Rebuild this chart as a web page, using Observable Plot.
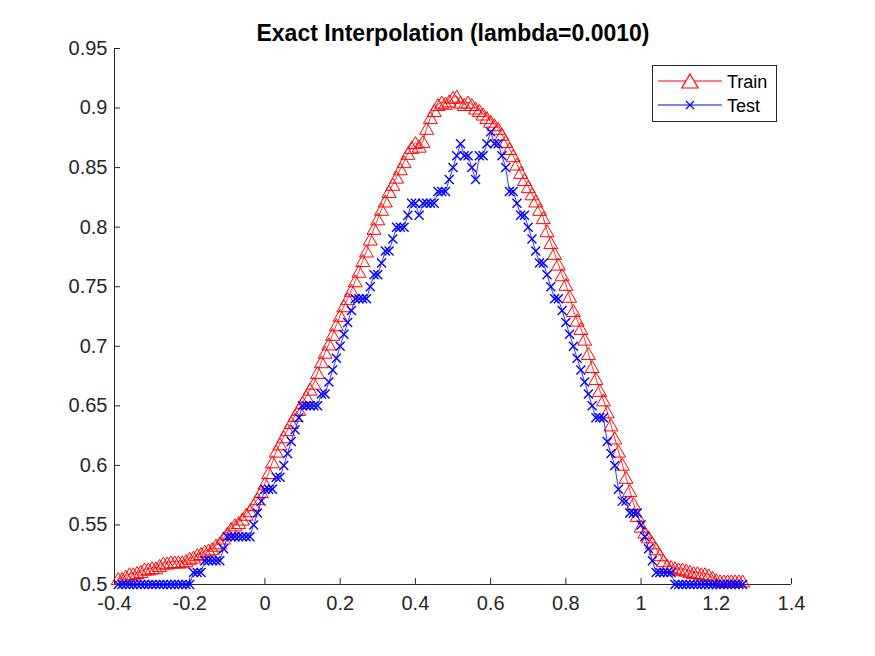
<!DOCTYPE html>
<html><head><meta charset="utf-8">
<script src="https://cdn.jsdelivr.net/npm/d3@7"></script>
<script src="https://cdn.jsdelivr.net/npm/@observablehq/plot@0.6"></script>
<style>
body{margin:0;background:#fff;}
#wrap{position:relative;width:875px;height:656px;font-family:"Liberation Sans",Arial,sans-serif;}
#legend{position:absolute;left:652px;top:65px;width:125px;height:57px;box-sizing:border-box;border:1px solid #262626;background:#fff;}
#legend svg{display:block;}
</style></head><body>
<div id="wrap"><div id="chart"></div><div id="legend"></div></div>
<script>
// sample positions (x) and accuracies
const xs = [
-0.39,-0.38,-0.37,-0.36,-0.35,-0.34,-0.33,-0.32,-0.31,-0.30,
-0.29,-0.28,-0.27,-0.26,-0.25,-0.24,-0.23,-0.22,-0.21,-0.20,
-0.19,-0.18,-0.17,-0.16,-0.15,-0.14,-0.13,-0.12,-0.11,-0.10,
-0.09,-0.08,-0.07,-0.06,-0.05,-0.04,-0.03,-0.02,-0.01,0.00,
0.01,0.02,0.03,0.04,0.05,0.06,0.07,0.08,0.09,0.10,
0.11,0.12,0.13,0.14,0.15,0.16,0.17,0.18,0.19,0.20,
0.21,0.22,0.23,0.24,0.25,0.26,0.27,0.28,0.29,0.30,
0.31,0.32,0.33,0.34,0.35,0.36,0.37,0.38,0.39,0.40,
0.41,0.42,0.43,0.44,0.45,0.46,0.47,0.48,0.49,0.50,
0.51,0.52,0.53,0.54,0.55,0.56,0.57,0.58,0.59,0.60,
0.61,0.62,0.63,0.64,0.65,0.66,0.67,0.68,0.69,0.70,
0.71,0.72,0.73,0.74,0.75,0.76,0.77,0.78,0.79,0.80,
0.81,0.82,0.83,0.84,0.85,0.86,0.87,0.88,0.89,0.90,
0.91,0.92,0.93,0.94,0.95,0.96,0.97,0.98,0.99,1.00,
1.01,1.02,1.03,1.04,1.05,1.06,1.07,1.08,1.09,1.10,
1.11,1.12,1.13,1.14,1.15,1.16,1.17,1.18,1.19,1.20,
1.21,1.22,1.23,1.24,1.25,1.26,1.27];

const trainAcc = [
0.505,0.505,0.507,0.509,0.509,0.510,0.511,0.513,0.513,0.514,
0.514,0.516,0.518,0.518,0.519,0.519,0.519,0.519,0.520,0.522,
0.523,0.525,0.526,0.528,0.529,0.530,0.533,0.535,0.539,0.543,
0.547,0.550,0.552,0.555,0.559,0.562,0.567,0.572,0.578,0.585,
0.594,0.603,0.612,0.618,0.624,0.630,0.636,0.642,0.647,0.653,
0.658,0.664,0.669,0.678,0.687,0.695,0.702,0.710,0.718,0.726,
0.734,0.740,0.747,0.755,0.763,0.772,0.780,0.790,0.799,0.807,
0.815,0.822,0.830,0.836,0.842,0.849,0.855,0.862,0.867,0.871,
0.868,0.872,0.883,0.892,0.898,0.903,0.905,0.904,0.906,0.909,
0.910,0.905,0.903,0.905,0.903,0.900,0.898,0.895,0.892,0.889,
0.886,0.883,0.878,0.872,0.866,0.860,0.853,0.846,0.840,0.834,
0.828,0.822,0.815,0.808,0.797,0.787,0.778,0.769,0.760,0.752,
0.742,0.730,0.722,0.715,0.706,0.694,0.683,0.673,0.663,0.655,
0.645,0.634,0.623,0.612,0.601,0.590,0.579,0.568,0.558,0.549,
0.544,0.540,0.535,0.530,0.525,0.520,0.516,0.515,0.514,0.513,
0.513,0.512,0.511,0.510,0.510,0.509,0.509,0.508,0.506,0.504,
0.503,0.503,0.503,0.503,0.503,0.503,0.503];

const testAcc = [
0.50,0.50,0.50,0.50,0.50,0.50,0.50,0.50,0.50,0.50,
0.50,0.50,0.50,0.50,0.50,0.50,0.50,0.50,0.50,0.50,
0.51,0.51,0.51,0.52,0.52,0.52,0.52,0.52,0.53,0.54,
0.54,0.54,0.54,0.54,0.54,0.54,0.55,0.56,0.57,0.58,
0.58,0.58,0.59,0.59,0.60,0.61,0.62,0.63,0.64,0.65,
0.65,0.65,0.65,0.65,0.66,0.66,0.67,0.68,0.69,0.70,
0.71,0.72,0.73,0.74,0.74,0.74,0.74,0.75,0.76,0.76,
0.77,0.78,0.78,0.79,0.80,0.80,0.80,0.81,0.82,0.82,
0.81,0.82,0.82,0.82,0.82,0.83,0.83,0.83,0.84,0.85,
0.86,0.87,0.86,0.86,0.85,0.84,0.86,0.86,0.87,0.88,
0.87,0.87,0.86,0.85,0.83,0.83,0.82,0.81,0.81,0.80,
0.79,0.78,0.77,0.77,0.76,0.75,0.74,0.74,0.73,0.72,
0.71,0.70,0.69,0.68,0.67,0.66,0.65,0.64,0.64,0.64,
0.62,0.61,0.60,0.58,0.57,0.57,0.56,0.56,0.56,0.55,
0.54,0.53,0.52,0.51,0.51,0.51,0.51,0.51,0.50,0.50,
0.50,0.50,0.50,0.50,0.50,0.50,0.50,0.50,0.50,0.50,
0.50,0.50,0.50,0.50,0.50,0.50,0.50];

const xTicks = [-0.4,-0.2,0,0.2,0.4,0.6,0.8,1,1.2,1.4];
const yTicks = [0.5,0.55,0.6,0.65,0.7,0.75,0.8,0.85,0.9,0.95];
const seriesNames = ["Train","Test"];
const seriesColors = ["#ff0000","#0000ff"];
const titleText = "Exact Interpolation (lambda=0.0010)";

const train = xs.map((x,i)=>({x, y: trainAcc[i]}));
const test = xs.map((x,i)=>({x, y: testAcc[i]}));

const triangle = {draw(ctx, size){const r=Math.sqrt(size/Math.PI); ctx.moveTo(0,-r); ctx.lineTo(1.17*r, r); ctx.lineTo(-1.17*r, r); ctx.closePath();}};
const cross = {draw(ctx, size){const r=Math.sqrt(size/Math.PI); ctx.moveTo(-r,-r); ctx.lineTo(r,r); ctx.moveTo(-r,r); ctx.lineTo(r,-r);}};

const axisColor = "#262626";
const fmt = d => String(d);

const chart = Plot.plot({
  width: 875, height: 656,
  marginLeft: 114, marginRight: 84, marginTop: 48, marginBottom: 72,
  style: {fontFamily: "'Liberation Sans', Arial, sans-serif", fontSize: "20px", color: axisColor, background: "#fff", overflow: "visible"},
  x: {domain: [-0.4, 1.4]},
  y: {domain: [0.5, 0.95]},
  marks: [
    Plot.ruleX([-0.4], {stroke: axisColor, strokeWidth: 1}),
    Plot.ruleY([0.5], {stroke: axisColor, strokeWidth: 1}),
    Plot.axisX({ticks: xTicks, tickSize: 0, tickPadding: 11, tickFormat: fmt, label: null}),
    Plot.axisX({ticks: xTicks, tickSize: 6, dy: -6, tickFormat: () => "", label: null, stroke: axisColor}),
    Plot.axisY({ticks: yTicks, tickSize: 0, tickPadding: 7, tickFormat: fmt, label: null}),
    Plot.axisY({ticks: yTicks, tickSize: 6, dx: 6, tickFormat: () => "", label: null, stroke: axisColor}),
    Plot.line(train, {x: "x", y: "y", stroke: seriesColors[0], strokeWidth: 0.8}),
    Plot.dot(train, {x: "x", y: "y", symbol: triangle, r: 6, stroke: seriesColors[0], fill: "none", strokeWidth: 1}),
    Plot.line(test, {x: "x", y: "y", stroke: seriesColors[1], strokeWidth: 0.8}),
    Plot.dot(test, {x: "x", y: "y", symbol: cross, r: 4.5, stroke: seriesColors[1], fill: "none", strokeWidth: 1.4}),
    Plot.text([titleText], {frameAnchor: "top", dy: -8, text: d => d, fontSize: 23, fontWeight: "bold", fill: "#000", lineAnchor: "bottom"})
  ]
});
document.getElementById("chart").appendChild(chart);

// legend
const lg = d3.select("#legend").append("svg").attr("width", 123).attr("height", 55);
seriesNames.forEach((name, i) => {
  const cy = 15 + i * 24;
  const g = lg.append("g");
  g.append("line").attr("x1", 5).attr("x2", 69).attr("y1", cy).attr("y2", cy)
    .attr("stroke", seriesColors[i]).attr("stroke-width", 1);
  const p = d3.path();
  if (i === 0) triangle.draw(p, Math.PI * 49); else cross.draw(p, Math.PI * 16);
  g.append("path").attr("d", p.toString()).attr("transform", `translate(37,${cy})`)
    .attr("fill", i === 0 ? "#fff" : "none").attr("stroke", seriesColors[i]).attr("stroke-width", 1.2);
  g.append("text").attr("x", 74).attr("y", cy + 6.5).attr("font-size", 18)
    .attr("font-family", "'Liberation Sans', Arial, sans-serif").attr("fill", "#000").text(name);
});
</script>
</body></html>
